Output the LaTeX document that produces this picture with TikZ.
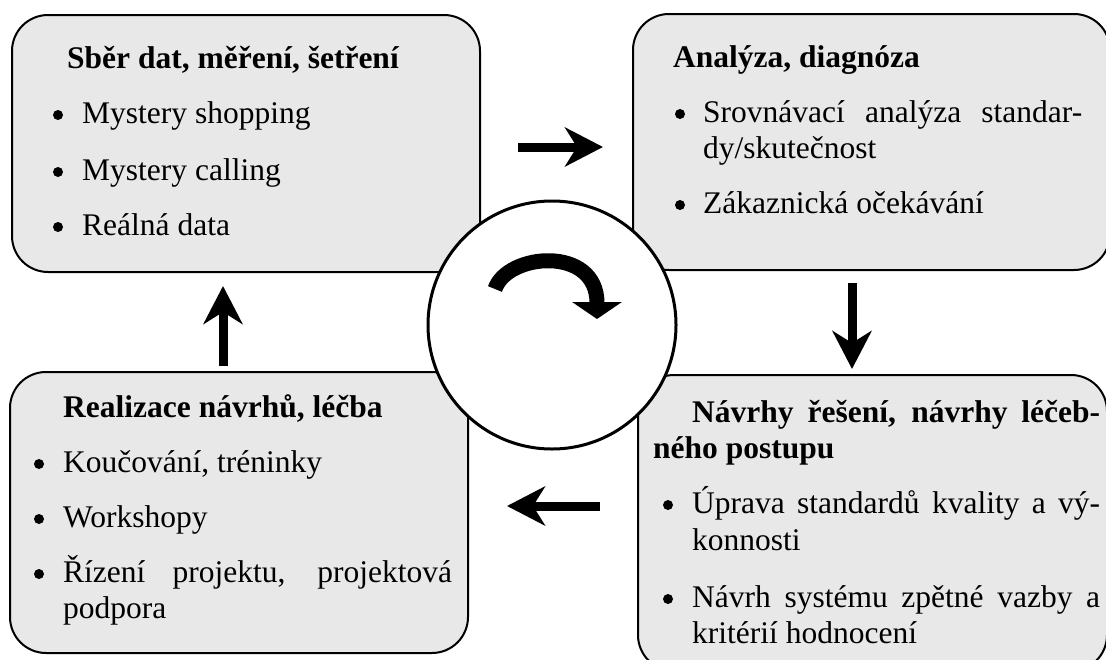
\documentclass[tikz,border=0pt]{standalone}
\usepackage{fontspec}
\setmainfont{Liberation Serif}
\usetikzlibrary{arrows.meta}
\definecolor{panelgray}{RGB}{232,232,232}

\begin{document}
\begin{tikzpicture}[x=1pt,y=-1pt,
  panel/.style={draw=black, line width=2pt, fill=panelgray, rounded corners=36pt,
    inner sep=0pt, rectangle},
  txt/.style={anchor=base west, inner sep=0pt, font=\fontsize{31.5pt}{36pt}\selectfont},
  ttl/.style={anchor=base west, inner sep=0pt, font=\fontsize{31.5pt}{36pt}\selectfont\bfseries},
  dot/.style={circle, fill=black, inner sep=0pt, minimum size=10pt},
  flow/.style={line width=9pt, -{Stealth[length=38pt,width=39pt,inset=12pt]}},
  turn/.style={line width=15pt, -{Triangle[length=17pt,width=49pt]}},
  hub/.style={circle, draw=black, line width=3pt, fill=white, minimum size=248pt, inner sep=0pt},
]
\useasboundingbox (0,0) rectangle (1106,659);
\clip (0,0) rectangle (1106,659);

% the four stage panels
\node[panel, minimum width=468pt, minimum height=257pt] (collect) at (246,143.5) {};
\node[panel, minimum width=477pt, minimum height=256pt] (analyse) at (871.5,142) {};
\node[panel, minimum width=469pt, minimum height=296pt] (propose) at (872.5,523) {};
\node[panel, minimum width=458pt, minimum height=281pt] (realise) at (239,512.5) {};

% arrows between the stages
\coordinate (c1s) at (518,147);  \coordinate (c1e) at (603,147);
\coordinate (c2s) at (852,283);  \coordinate (c2e) at (852,369);
\coordinate (c3s) at (600,506);  \coordinate (c3e) at (507,506);
\coordinate (c4s) at (223,366);  \coordinate (c4e) at (223,286);
\draw[flow] (c1s) -- (c1e);
\draw[flow] (c2s) -- (c2e);
\draw[flow] (c3s) -- (c3e);
\draw[flow] (c4s) -- (c4e);

% central cycle symbol
\node[hub] (cycle) at (552,325) {};
\coordinate (t0) at (495,289);
\coordinate (t1) at (597,319);
\draw[turn] (t0) .. controls (507,253) and (597,245) .. (t1);

% Sběr dat
\node[ttl] (h1) at (67,68) {Sběr dat, měření, šetření};
\node[dot] (b11) at (58,115) {};
\node[txt] (l11) at (82,123) {Mystery shopping};
\node[dot] (b12) at (58,172) {};
\node[txt] (l12) at (82,180) {Mystery calling};
\node[dot] (b13) at (58,227) {};
\node[txt] (l13) at (82,235) {Reálná data};

% Analýza
\node[ttl] (h2) at (673,67) {Analýza, diagnóza};
\node[dot] (b21) at (680,114) {};
\node[txt] (l21) at (703,122) {\makebox[379pt][s]{Srovnávací analýza standar-}};
\node[txt] (l21b) at (703,158) {dy/skutečnost};
\node[dot] (b22) at (680,205) {};
\node[txt] (l22) at (703,213) {Zákaznická očekávání};

% Návrhy
\node[ttl] (h3) at (692,422) {\makebox[408pt][s]{Návrhy řešení, návrhy léčeb-}};
\node[ttl] (h3b) at (653,458) {ného postupu};
\node[dot] (b31) at (668,505) {};
\node[txt] (l31) at (692,513) {\makebox[408pt][s]{Úprava standardů kvality a vý-}};
\node[txt] (l31b) at (692,550) {konnosti};
\node[dot] (b32) at (668,599) {};
\node[txt] (l32) at (692,607) {\makebox[408pt][s]{Návrh systému zpětné vazby a}};
\node[txt] (l32b) at (692,643) {kritérií hodnocení};

% Realizace
\node[ttl] (h4) at (63,417) {Realizace návrhů, léčba};
\node[dot] (b41) at (39,464) {};
\node[txt] (l41) at (63,472) {Koučování, tréninky};
\node[dot] (b42) at (39,519) {};
\node[txt] (l42) at (63,527) {Workshopy};
\node[dot] (b43) at (39,574) {};
\node[txt] (l43) at (63,582) {\makebox[389pt][s]{Řízení projektu, projektová}};
\node[txt] (l43b) at (63,618) {podpora};
\end{tikzpicture}
\end{document}
